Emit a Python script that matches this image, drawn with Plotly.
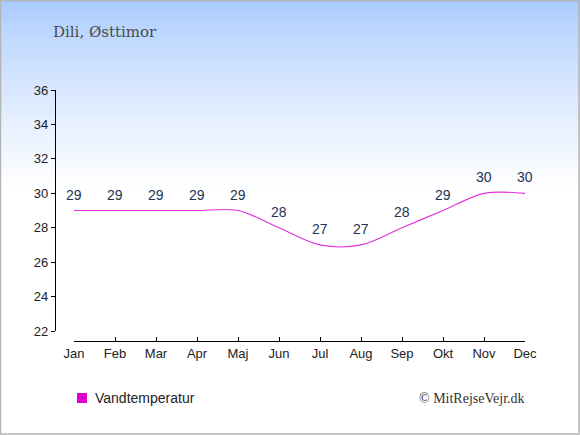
import plotly.graph_objects as go

months = ["Jan", "Feb", "Mar", "Apr", "Maj", "Jun", "Jul", "Aug", "Sep", "Okt", "Nov", "Dec"]
water_temp = [29, 29, 29, 29, 29, 28, 27, 27, 28, 29, 30, 30]
y_ticks = [22, 24, 26, 28, 30, 32, 34, 36]

W, H = 580, 435
L, R, T, B = 55, 55, 90, 94
pw, ph = W - L - R, H - T - B


def px_x(x):
    return (x - L) / pw


def px_y(y):
    return (H - B - y) / ph


fig = go.Figure()

fig.add_trace(go.Scatter(
    x=list(range(12)), y=water_temp,
    mode="lines",
    line=dict(color="#e033e0", width=1.2, shape="spline", smoothing=0.9),
    showlegend=False, hoverinfo="skip",
))

# value labels above each point
annotations = []
for i, v in enumerate(water_temp):
    annotations.append(dict(
        x=i, y=v, xref="x", yref="y", text=str(v), showarrow=False,
        yshift=16, font=dict(family="Liberation Sans, Arial", size=14, color="#223355"),
    ))

# background gradient bands (light blue at top fading to white)
shapes = []
top = (168, 202, 255)
n = 45
band_h = 190 / n
for i in range(n):
    f = (i / (n - 1)) ** 0.8
    c = tuple(round(top[k] + (255 - top[k]) * f) for k in range(3))
    y0 = i * band_h
    shapes.append(dict(
        type="rect", xref="paper", yref="paper", layer="below",
        x0=px_x(0), x1=px_x(W), y0=px_y(y0), y1=px_y(y0 + band_h + 0.6),
        fillcolor="rgb(%d,%d,%d)" % c, line=dict(width=0),
    ))
shapes.append(dict(
    type="rect", xref="paper", yref="paper", layer="above",
    x0=px_x(0.5), x1=px_x(W - 1), y0=px_y(0.5), y1=px_y(H - 1),
    line=dict(color="#b4b4b4", width=1.5), fillcolor="rgba(0,0,0,0)",
))
# legend square
shapes.append(dict(
    type="rect", xref="paper", yref="paper",
    x0=px_x(77), x1=px_x(87), y0=px_y(393), y1=px_y(403),
    fillcolor="#dd00cc", line=dict(width=0),
))

annotations += [
    dict(text="Dili, Østtimor", xref="paper", yref="paper",
         x=px_x(51), y=px_y(32), xanchor="left", yanchor="middle",
         showarrow=False,
         font=dict(family="DejaVu Serif", size=15, color="#4a4a4a")),
    dict(text="Vandtemperatur", xref="paper", yref="paper",
         x=px_x(93), y=px_y(398), xanchor="left", yanchor="middle",
         showarrow=False,
         font=dict(family="Liberation Sans, Arial", size=14, color="#222222")),
    dict(text="© MitRejseVejr.dk", xref="paper", yref="paper",
         x=px_x(527), y=px_y(398), xanchor="right", yanchor="middle",
         showarrow=False,
         font=dict(family="Liberation Serif, Times New Roman", size=14, color="#333333")),
]

fig.update_layout(
    width=W, height=H,
    margin=dict(l=L, r=R, t=T, b=B),
    paper_bgcolor="white", plot_bgcolor="rgba(0,0,0,0)",
    shapes=shapes,
    annotations=annotations,
    showlegend=False,
    xaxis=dict(
        domain=[px_x(74), 1], range=[0, 11], anchor="free", position=0,
        tickmode="array", tickvals=list(range(12)), ticktext=months,
        showline=True, linecolor="black", linewidth=1.2,
        ticks="inside", ticklen=4, tickcolor="black", tickwidth=1.2,
        showgrid=False, zeroline=False, fixedrange=True,
        tickfont=dict(family="Liberation Sans, Arial", size=13, color="#222222"),
    ),
    yaxis=dict(
        domain=[px_y(331), 1], range=[22, 36], anchor="free", position=0,
        tickmode="array", tickvals=y_ticks,
        showline=True, linecolor="black", linewidth=1.2,
        ticks="outside", ticklen=4, tickcolor="black", tickwidth=1.2,
        showgrid=False, zeroline=False, fixedrange=True,
        tickfont=dict(family="Liberation Sans, Arial", size=13, color="#222222"),
    ),
)

fig.write_html("out.html", config={"displayModeBar": False},
               post_script="document.body.style.margin='0';")
